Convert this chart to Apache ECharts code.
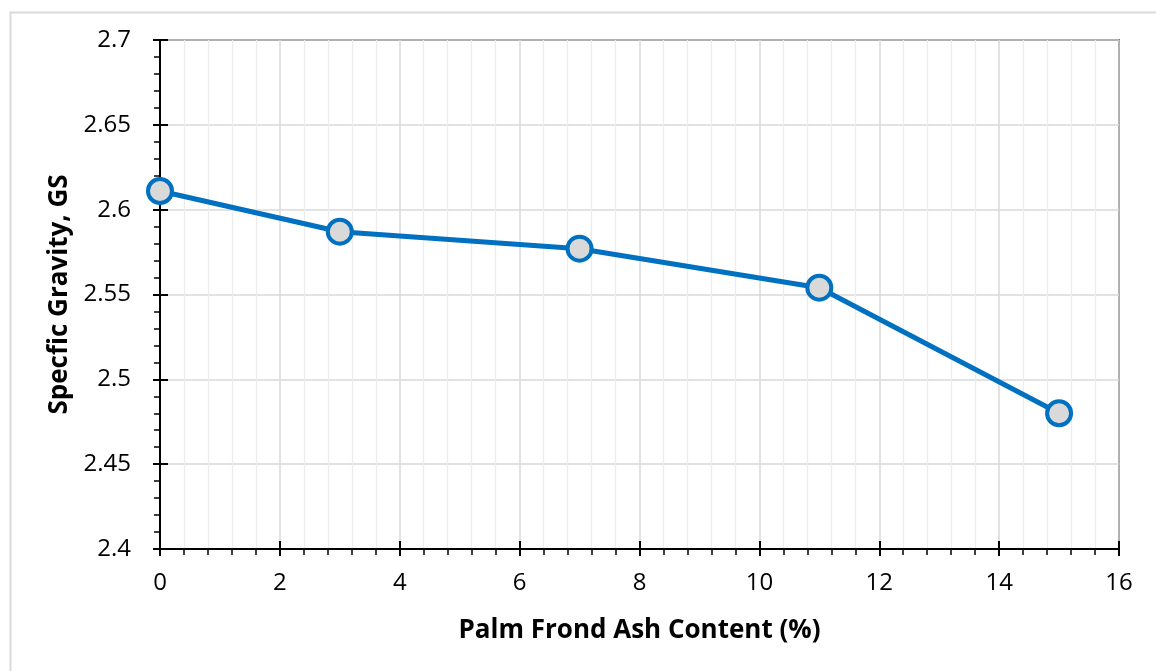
<!DOCTYPE html>
<html>
<head>
<meta charset="utf-8">
<script src="https://cdn.jsdelivr.net/npm/echarts@6/dist/echarts.min.js"></script>
<style>
html,body{margin:0;padding:0;background:#fff;}
#chart{width:1156px;height:671px;}
</style>
</head>
<body>
<div id="chart"></div>
<script>
const ashContent = [0, 3, 7, 11, 15];
const specificGravity = [2.611, 2.587, 2.577, 2.554, 2.480];
const xTitle = 'Palm Frond Ash Content (%)';
const yTitle = 'Specfic Gravity, GS';

const chart = echarts.init(document.getElementById('chart'));
const font = '"Open Sans", "Noto Sans", sans-serif';
const grid = {left:160, right:37, top:40, bottom:122};

const option = {
  animation:false,
  backgroundColor:'#fff',
  graphic:[{
    type:'rect', left:8, top:10, silent:true, z:-10,
    shape:{width:1200, height:700},
    style:{fill:'none', stroke:'#d9d9d9', lineWidth:2}
  }],
  grid:[
    Object.assign({show:true, borderColor:'#000', borderWidth:1.5, backgroundColor:'transparent'}, grid),
  ],
  xAxis:[{
    type:'value', min:0, max:16, interval:2,
    axisLine:{show:true, onZero:false, lineStyle:{color:'#000', width:2}},
    axisTick:{show:true, inside:false, length:7, lineStyle:{color:'#000', width:2}},
    minorTick:{show:true, splitNumber:5, length:6, lineStyle:{color:'#000', width:1.5}},
    splitLine:{show:true, lineStyle:{color:'#d9d9d9', width:1.5}},
    minorSplitLine:{show:true, lineStyle:{color:'#ececec', width:1.2}},
    axisLabel:{color:'#000', fontFamily:font, fontSize:24, margin:22},
    name:xTitle, nameLocation:'middle', nameGap:69,
    nameTextStyle:{color:'#000', fontFamily:font, fontSize:26, fontWeight:'bold'}
  },{
    type:'value', min:0, max:16, interval:2, position:'bottom',
    axisLine:{show:false},
    axisTick:{show:true, inside:true, length:8, lineStyle:{color:'#000', width:2}},
    axisLabel:{show:false}, splitLine:{show:false}
  }],
  yAxis:[{
    type:'value', min:2.4, max:2.7, interval:0.05,
    axisLine:{show:true, onZero:false, lineStyle:{color:'#000', width:2}},
    axisTick:{show:true, inside:false, length:7, lineStyle:{color:'#000', width:2}},
    minorTick:{show:true, splitNumber:5, length:6, lineStyle:{color:'#000', width:1.5}},
    splitLine:{show:true, lineStyle:{color:'#d9d9d9', width:1.5}},
    axisLabel:{color:'#000', fontFamily:font, fontSize:24, margin:29,
      formatter:function(v){return String(parseFloat(v.toFixed(2)));}},
    name:yTitle, nameLocation:'middle', nameGap:82,
    nameTextStyle:{color:'#000', fontFamily:font, fontSize:26, fontWeight:'bold'}
  },{
    type:'value', min:2.4, max:2.7, interval:0.05, position:'left',
    axisLine:{show:false},
    axisTick:{show:true, inside:true, length:8, lineStyle:{color:'#000', width:2}},
    axisLabel:{show:false}, splitLine:{show:false}
  }],
  series:[{
    type:'line',
    xAxisIndex:0, yAxisIndex:0,
    data: ashContent.map((x,i)=>[x, specificGravity[i]]),
    lineStyle:{color:'#0070C0', width:5},
    symbol:'circle', symbolSize:24,
    itemStyle:{color:'#d9d9d9', borderColor:'#0070C0', borderWidth:4},
    z:5
  }]
};
chart.setOption(option);
</script>
</body>
</html>
